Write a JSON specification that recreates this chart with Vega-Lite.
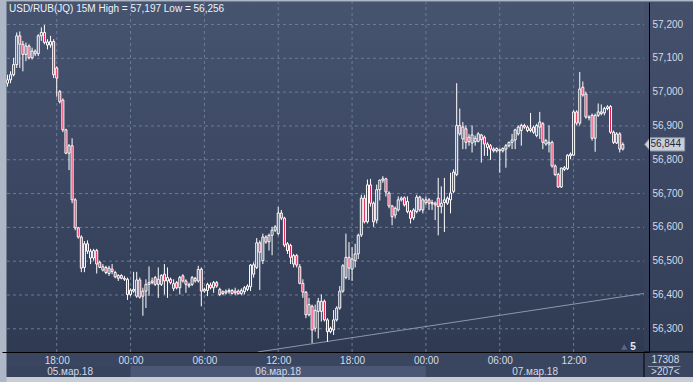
{
  "$schema": "https://vega.github.io/schema/vega-lite/v6.json",
  "width": 647,
  "height": 350,
  "autosize": {"type": "none"},
  "padding": {"left": 2, "top": 2, "right": 44, "bottom": 30},
  "background": "#3a4660",
  "config": {
    "font": "Liberation Sans",
    "view": {"stroke": null, "fill": {"gradient": "linear", "x1": 0, "y1": 0, "x2": 0, "y2": 1, "stops": [{"offset": 0, "color": "#47546f"}, {"offset": 0.5, "color": "#3c4863"}, {"offset": 1, "color": "#2f3a52"}]}}
  },
  "resolve": {"axis": {"x": "independent", "y": "independent"}},
  "datasets": {
    "candles": [
      {"t":"2018-03-05T14:00","o":57.025,"h":57.05,"l":57.015,"c":57.035},
      {"t":"2018-03-05T14:15","o":57.035,"h":57.06,"l":57.025,"c":57.05},
      {"t":"2018-03-05T14:30","o":57.05,"h":57.10,"l":57.045,"c":57.08},
      {"t":"2018-03-05T14:45","o":57.08,"h":57.175,"l":57.07,"c":57.165},
      {"t":"2018-03-05T15:00","o":57.165,"h":57.178,"l":57.07,"c":57.14},
      {"t":"2018-03-05T15:15","o":57.14,"h":57.15,"l":57.06,"c":57.11},
      {"t":"2018-03-05T15:30","o":57.11,"h":57.145,"l":57.09,"c":57.135},
      {"t":"2018-03-05T15:45","o":57.135,"h":57.14,"l":57.095,"c":57.10},
      {"t":"2018-03-05T16:00","o":57.10,"h":57.13,"l":57.095,"c":57.12},
      {"t":"2018-03-05T16:15","o":57.12,"h":57.125,"l":57.105,"c":57.112},
      {"t":"2018-03-05T16:30","o":57.112,"h":57.17,"l":57.105,"c":57.165},
      {"t":"2018-03-05T16:45","o":57.165,"h":57.19,"l":57.15,"c":57.175},
      {"t":"2018-03-05T17:00","o":57.175,"h":57.197,"l":57.14,"c":57.145},
      {"t":"2018-03-05T17:15","o":57.147,"h":57.155,"l":57.125,"c":57.138},
      {"t":"2018-03-05T17:30","o":57.138,"h":57.165,"l":57.13,"c":57.148},
      {"t":"2018-03-05T17:45","o":57.148,"h":57.155,"l":57.04,"c":57.05},
      {"t":"2018-03-05T18:00","o":57.07,"h":57.075,"l":56.985,"c":57.04},
      {"t":"2018-03-05T18:15","o":57.0,"h":57.005,"l":56.965,"c":56.97},
      {"t":"2018-03-05T18:30","o":56.975,"h":56.98,"l":56.88,"c":56.887},
      {"t":"2018-03-05T18:45","o":56.887,"h":56.89,"l":56.815,"c":56.818},
      {"t":"2018-03-05T19:00","o":56.818,"h":56.845,"l":56.768,"c":56.84},
      {"t":"2018-03-05T19:15","o":56.84,"h":56.862,"l":56.67,"c":56.68},
      {"t":"2018-03-05T19:30","o":56.68,"h":56.685,"l":56.59,"c":56.597},
      {"t":"2018-03-05T19:45","o":56.597,"h":56.6,"l":56.565,"c":56.57},
      {"t":"2018-03-05T20:00","o":56.57,"h":56.575,"l":56.466,"c":56.478},
      {"t":"2018-03-05T20:15","o":56.48,"h":56.558,"l":56.466,"c":56.55},
      {"t":"2018-03-05T20:30","o":56.55,"h":56.56,"l":56.52,"c":56.528},
      {"t":"2018-03-05T20:45","o":56.508,"h":56.535,"l":56.49,"c":56.528},
      {"t":"2018-03-05T21:00","o":56.508,"h":56.535,"l":56.5,"c":56.53},
      {"t":"2018-03-05T21:15","o":56.53,"h":56.535,"l":56.462,"c":56.49},
      {"t":"2018-03-05T21:30","o":56.495,"h":56.5,"l":56.478,"c":56.48},
      {"t":"2018-03-05T21:45","o":56.472,"h":56.49,"l":56.468,"c":56.482},
      {"t":"2018-03-05T22:00","o":56.48,"h":56.485,"l":56.46,"c":56.465},
      {"t":"2018-03-05T22:15","o":56.462,"h":56.485,"l":56.455,"c":56.478},
      {"t":"2018-03-05T22:30","o":56.475,"h":56.49,"l":56.46,"c":56.468},
      {"t":"2018-03-05T22:45","o":56.465,"h":56.47,"l":56.448,"c":56.452},
      {"t":"2018-03-05T23:00","o":56.448,"h":56.46,"l":56.44,"c":56.456},
      {"t":"2018-03-05T23:15","o":56.456,"h":56.46,"l":56.445,"c":56.448},
      {"t":"2018-03-05T23:30","o":56.448,"h":56.455,"l":56.44,"c":56.445},
      {"t":"2018-03-05T23:45","o":56.445,"h":56.45,"l":56.384,"c":56.40},
      {"t":"2018-03-06T00:00","o":56.40,"h":56.418,"l":56.395,"c":56.413},
      {"t":"2018-03-06T00:15","o":56.41,"h":56.467,"l":56.405,"c":56.415},
      {"t":"2018-03-06T00:30","o":56.395,"h":56.467,"l":56.39,"c":56.443},
      {"t":"2018-03-06T00:45","o":56.443,"h":56.45,"l":56.388,"c":56.392},
      {"t":"2018-03-06T01:00","o":56.395,"h":56.42,"l":56.337,"c":56.41},
      {"t":"2018-03-06T01:15","o":56.41,"h":56.445,"l":56.36,"c":56.43},
      {"t":"2018-03-06T01:30","o":56.43,"h":56.483,"l":56.396,"c":56.435},
      {"t":"2018-03-06T01:45","o":56.435,"h":56.45,"l":56.43,"c":56.44},
      {"t":"2018-03-06T02:00","o":56.45,"h":56.455,"l":56.425,"c":56.43},
      {"t":"2018-03-06T02:15","o":56.43,"h":56.48,"l":56.39,"c":56.445},
      {"t":"2018-03-06T02:30","o":56.43,"h":56.46,"l":56.425,"c":56.456},
      {"t":"2018-03-06T02:45","o":56.46,"h":56.49,"l":56.40,"c":56.44},
      {"t":"2018-03-06T03:00","o":56.44,"h":56.48,"l":56.39,"c":56.45},
      {"t":"2018-03-06T03:15","o":56.445,"h":56.45,"l":56.43,"c":56.435},
      {"t":"2018-03-06T03:30","o":56.418,"h":56.445,"l":56.41,"c":56.432},
      {"t":"2018-03-06T03:45","o":56.435,"h":56.44,"l":56.415,"c":56.42},
      {"t":"2018-03-06T04:00","o":56.42,"h":56.455,"l":56.40,"c":56.45},
      {"t":"2018-03-06T04:15","o":56.455,"h":56.46,"l":56.435,"c":56.44},
      {"t":"2018-03-06T04:30","o":56.44,"h":56.445,"l":56.405,"c":56.43},
      {"t":"2018-03-06T04:45","o":56.43,"h":56.435,"l":56.42,"c":56.425},
      {"t":"2018-03-06T05:00","o":56.43,"h":56.455,"l":56.425,"c":56.45},
      {"t":"2018-03-06T05:15","o":56.448,"h":56.452,"l":56.435,"c":56.44},
      {"t":"2018-03-06T05:30","o":56.44,"h":56.485,"l":56.435,"c":56.474},
      {"t":"2018-03-06T05:45","o":56.475,"h":56.48,"l":56.365,"c":56.41},
      {"t":"2018-03-06T06:00","o":56.41,"h":56.42,"l":56.405,"c":56.415},
      {"t":"2018-03-06T06:15","o":56.412,"h":56.435,"l":56.395,"c":56.43},
      {"t":"2018-03-06T06:30","o":56.428,"h":56.435,"l":56.415,"c":56.42},
      {"t":"2018-03-06T06:45","o":56.42,"h":56.44,"l":56.405,"c":56.435},
      {"t":"2018-03-06T07:00","o":56.435,"h":56.44,"l":56.42,"c":56.425},
      {"t":"2018-03-06T07:15","o":56.415,"h":56.42,"l":56.395,"c":56.40},
      {"t":"2018-03-06T07:30","o":56.403,"h":56.412,"l":56.398,"c":56.408},
      {"t":"2018-03-06T07:45","o":56.405,"h":56.415,"l":56.4,"c":56.41},
      {"t":"2018-03-06T08:00","o":56.408,"h":56.418,"l":56.402,"c":56.412},
      {"t":"2018-03-06T08:15","o":56.412,"h":56.416,"l":56.4,"c":56.403},
      {"t":"2018-03-06T08:30","o":56.405,"h":56.42,"l":56.398,"c":56.41},
      {"t":"2018-03-06T08:45","o":56.41,"h":56.415,"l":56.4,"c":56.402},
      {"t":"2018-03-06T09:00","o":56.403,"h":56.418,"l":56.398,"c":56.412},
      {"t":"2018-03-06T09:15","o":56.408,"h":56.425,"l":56.40,"c":56.42},
      {"t":"2018-03-06T09:30","o":56.415,"h":56.43,"l":56.41,"c":56.425},
      {"t":"2018-03-06T09:45","o":56.423,"h":56.49,"l":56.41,"c":56.487},
      {"t":"2018-03-06T10:00","o":56.46,"h":56.495,"l":56.45,"c":56.488},
      {"t":"2018-03-06T10:15","o":56.48,"h":56.567,"l":56.475,"c":56.553},
      {"t":"2018-03-06T10:30","o":56.553,"h":56.56,"l":56.413,"c":56.525},
      {"t":"2018-03-06T10:45","o":56.50,"h":56.58,"l":56.49,"c":56.57},
      {"t":"2018-03-06T11:00","o":56.57,"h":56.575,"l":56.55,"c":56.555},
      {"t":"2018-03-06T11:15","o":56.556,"h":56.58,"l":56.53,"c":56.575},
      {"t":"2018-03-06T11:30","o":56.575,"h":56.60,"l":56.516,"c":56.59},
      {"t":"2018-03-06T11:45","o":56.59,"h":56.605,"l":56.585,"c":56.60},
      {"t":"2018-03-06T12:00","o":56.58,"h":56.659,"l":56.575,"c":56.641},
      {"t":"2018-03-06T12:15","o":56.641,"h":56.65,"l":56.62,"c":56.626},
      {"t":"2018-03-06T12:30","o":56.626,"h":56.63,"l":56.54,"c":56.546},
      {"t":"2018-03-06T12:45","o":56.55,"h":56.555,"l":56.52,"c":56.53},
      {"t":"2018-03-06T13:00","o":56.545,"h":56.55,"l":56.49,"c":56.51},
      {"t":"2018-03-06T13:15","o":56.49,"h":56.52,"l":56.48,"c":56.515},
      {"t":"2018-03-06T13:30","o":56.515,"h":56.52,"l":56.48,"c":56.487},
      {"t":"2018-03-06T13:45","o":56.482,"h":56.49,"l":56.43,"c":56.433},
      {"t":"2018-03-06T14:00","o":56.433,"h":56.445,"l":56.39,"c":56.407},
      {"t":"2018-03-06T14:15","o":56.407,"h":56.41,"l":56.33,"c":56.34},
      {"t":"2018-03-06T14:30","o":56.34,"h":56.39,"l":56.335,"c":56.37},
      {"t":"2018-03-06T14:45","o":56.365,"h":56.37,"l":56.256,"c":56.295},
      {"t":"2018-03-06T15:00","o":56.30,"h":56.37,"l":56.29,"c":56.353},
      {"t":"2018-03-06T15:15","o":56.35,"h":56.39,"l":56.27,"c":56.38},
      {"t":"2018-03-06T15:30","o":56.35,"h":56.40,"l":56.32,"c":56.38},
      {"t":"2018-03-06T15:45","o":56.38,"h":56.385,"l":56.32,"c":56.325},
      {"t":"2018-03-06T16:00","o":56.325,"h":56.33,"l":56.26,"c":56.29},
      {"t":"2018-03-06T16:15","o":56.29,"h":56.305,"l":56.285,"c":56.30},
      {"t":"2018-03-06T16:30","o":56.295,"h":56.354,"l":56.28,"c":56.325},
      {"t":"2018-03-06T16:45","o":56.325,"h":56.365,"l":56.32,"c":56.36},
      {"t":"2018-03-06T17:00","o":56.36,"h":56.425,"l":56.355,"c":56.41},
      {"t":"2018-03-06T17:15","o":56.41,"h":56.49,"l":56.405,"c":56.485},
      {"t":"2018-03-06T17:30","o":56.45,"h":56.58,"l":56.445,"c":56.51},
      {"t":"2018-03-06T17:45","o":56.51,"h":56.555,"l":56.443,"c":56.478},
      {"t":"2018-03-06T18:00","o":56.475,"h":56.54,"l":56.44,"c":56.505},
      {"t":"2018-03-06T18:15","o":56.50,"h":56.55,"l":56.48,"c":56.52},
      {"t":"2018-03-06T18:30","o":56.52,"h":56.58,"l":56.505,"c":56.575},
      {"t":"2018-03-06T18:45","o":56.576,"h":56.695,"l":56.57,"c":56.685},
      {"t":"2018-03-06T19:00","o":56.685,"h":56.695,"l":56.61,"c":56.615},
      {"t":"2018-03-06T19:15","o":56.615,"h":56.74,"l":56.61,"c":56.724},
      {"t":"2018-03-06T19:30","o":56.724,"h":56.742,"l":56.66,"c":56.67},
      {"t":"2018-03-06T19:45","o":56.67,"h":56.675,"l":56.60,"c":56.615},
      {"t":"2018-03-06T20:00","o":56.62,"h":56.725,"l":56.61,"c":56.71},
      {"t":"2018-03-06T20:15","o":56.71,"h":56.74,"l":56.678,"c":56.738},
      {"t":"2018-03-06T20:30","o":56.738,"h":56.75,"l":56.73,"c":56.742},
      {"t":"2018-03-06T20:45","o":56.742,"h":56.745,"l":56.69,"c":56.703},
      {"t":"2018-03-06T21:00","o":56.70,"h":56.705,"l":56.655,"c":56.662},
      {"t":"2018-03-06T21:15","o":56.662,"h":56.665,"l":56.605,"c":56.63},
      {"t":"2018-03-06T21:30","o":56.635,"h":56.66,"l":56.625,"c":56.655},
      {"t":"2018-03-06T21:45","o":56.65,"h":56.69,"l":56.645,"c":56.68},
      {"t":"2018-03-06T22:00","o":56.68,"h":56.69,"l":56.675,"c":56.685},
      {"t":"2018-03-06T22:15","o":56.686,"h":56.69,"l":56.66,"c":56.665},
      {"t":"2018-03-06T22:30","o":56.675,"h":56.69,"l":56.64,"c":56.645},
      {"t":"2018-03-06T22:45","o":56.645,"h":56.65,"l":56.61,"c":56.625},
      {"t":"2018-03-06T23:00","o":56.627,"h":56.655,"l":56.62,"c":56.65},
      {"t":"2018-03-06T23:15","o":56.645,"h":56.695,"l":56.64,"c":56.688},
      {"t":"2018-03-06T23:30","o":56.688,"h":56.692,"l":56.645,"c":56.65},
      {"t":"2018-03-06T23:45","o":56.65,"h":56.685,"l":56.64,"c":56.68},
      {"t":"2018-03-07T00:00","o":56.672,"h":56.69,"l":56.665,"c":56.68},
      {"t":"2018-03-07T00:15","o":56.68,"h":56.685,"l":56.65,"c":56.67},
      {"t":"2018-03-07T00:30","o":56.668,"h":56.68,"l":56.65,"c":56.672},
      {"t":"2018-03-07T00:45","o":56.67,"h":56.675,"l":56.62,"c":56.665},
      {"t":"2018-03-07T01:00","o":56.685,"h":56.745,"l":56.575,"c":56.66},
      {"t":"2018-03-07T01:15","o":56.66,"h":56.72,"l":56.64,"c":56.67},
      {"t":"2018-03-07T01:30","o":56.672,"h":56.745,"l":56.585,"c":56.68},
      {"t":"2018-03-07T01:45","o":56.685,"h":56.69,"l":56.665,"c":56.67},
      {"t":"2018-03-07T02:00","o":56.68,"h":56.76,"l":56.64,"c":56.70},
      {"t":"2018-03-07T02:15","o":56.705,"h":56.77,"l":56.70,"c":56.762},
      {"t":"2018-03-07T02:30","o":56.755,"h":57.025,"l":56.75,"c":56.90},
      {"t":"2018-03-07T02:45","o":56.90,"h":56.95,"l":56.87,"c":56.875},
      {"t":"2018-03-07T03:00","o":56.86,"h":56.91,"l":56.83,"c":56.895},
      {"t":"2018-03-07T03:15","o":56.89,"h":56.90,"l":56.83,"c":56.85},
      {"t":"2018-03-07T03:30","o":56.865,"h":56.875,"l":56.84,"c":56.852},
      {"t":"2018-03-07T03:45","o":56.848,"h":56.90,"l":56.82,"c":56.872},
      {"t":"2018-03-07T04:00","o":56.852,"h":56.87,"l":56.84,"c":56.862},
      {"t":"2018-03-07T04:15","o":56.853,"h":56.88,"l":56.85,"c":56.875},
      {"t":"2018-03-07T04:30","o":56.872,"h":56.875,"l":56.79,"c":56.858},
      {"t":"2018-03-07T04:45","o":56.865,"h":56.87,"l":56.81,"c":56.845},
      {"t":"2018-03-07T05:00","o":56.835,"h":56.85,"l":56.81,"c":56.845},
      {"t":"2018-03-07T05:15","o":56.84,"h":56.845,"l":56.798,"c":56.83},
      {"t":"2018-03-07T05:30","o":56.83,"h":56.835,"l":56.82,"c":56.825},
      {"t":"2018-03-07T05:45","o":56.825,"h":56.835,"l":56.82,"c":56.832},
      {"t":"2018-03-07T06:00","o":56.828,"h":56.832,"l":56.76,"c":56.825},
      {"t":"2018-03-07T06:15","o":56.825,"h":56.835,"l":56.82,"c":56.832},
      {"t":"2018-03-07T06:30","o":56.83,"h":56.845,"l":56.775,"c":56.84},
      {"t":"2018-03-07T06:45","o":56.84,"h":56.852,"l":56.835,"c":56.85},
      {"t":"2018-03-07T07:00","o":56.85,"h":56.875,"l":56.83,"c":56.857},
      {"t":"2018-03-07T07:15","o":56.857,"h":56.89,"l":56.83,"c":56.887},
      {"t":"2018-03-07T07:30","o":56.875,"h":56.9,"l":56.87,"c":56.895},
      {"t":"2018-03-07T07:45","o":56.885,"h":56.905,"l":56.84,"c":56.9},
      {"t":"2018-03-07T08:00","o":56.9,"h":56.905,"l":56.89,"c":56.895},
      {"t":"2018-03-07T08:15","o":56.895,"h":56.9,"l":56.88,"c":56.885},
      {"t":"2018-03-07T08:30","o":56.885,"h":56.937,"l":56.88,"c":56.89},
      {"t":"2018-03-07T08:45","o":56.895,"h":56.9,"l":56.875,"c":56.88},
      {"t":"2018-03-07T09:00","o":56.87,"h":56.905,"l":56.865,"c":56.9},
      {"t":"2018-03-07T09:15","o":56.895,"h":56.94,"l":56.86,"c":56.91},
      {"t":"2018-03-07T09:30","o":56.905,"h":56.91,"l":56.83,"c":56.85},
      {"t":"2018-03-07T09:45","o":56.845,"h":56.86,"l":56.84,"c":56.855},
      {"t":"2018-03-07T10:00","o":56.845,"h":56.9,"l":56.82,"c":56.85},
      {"t":"2018-03-07T10:15","o":56.85,"h":56.855,"l":56.775,"c":56.78},
      {"t":"2018-03-07T10:30","o":56.78,"h":56.785,"l":56.75,"c":56.755},
      {"t":"2018-03-07T10:45","o":56.755,"h":56.76,"l":56.715,"c":56.718},
      {"t":"2018-03-07T11:00","o":56.718,"h":56.775,"l":56.715,"c":56.774},
      {"t":"2018-03-07T11:15","o":56.77,"h":56.78,"l":56.765,"c":56.775},
      {"t":"2018-03-07T11:30","o":56.772,"h":56.815,"l":56.768,"c":56.812},
      {"t":"2018-03-07T11:45","o":56.81,"h":56.82,"l":56.80,"c":56.815},
      {"t":"2018-03-07T12:00","o":56.812,"h":56.945,"l":56.81,"c":56.94},
      {"t":"2018-03-07T12:15","o":56.94,"h":56.945,"l":56.90,"c":56.907},
      {"t":"2018-03-07T12:30","o":56.907,"h":57.058,"l":56.90,"c":57.008},
      {"t":"2018-03-07T12:45","o":57.013,"h":57.03,"l":56.985,"c":56.99},
      {"t":"2018-03-07T13:00","o":56.993,"h":57.0,"l":56.92,"c":56.925},
      {"t":"2018-03-07T13:15","o":56.925,"h":56.93,"l":56.915,"c":56.923},
      {"t":"2018-03-07T13:30","o":56.93,"h":56.935,"l":56.855,"c":56.862},
      {"t":"2018-03-07T13:45","o":56.862,"h":56.935,"l":56.822,"c":56.93},
      {"t":"2018-03-07T14:00","o":56.93,"h":56.965,"l":56.925,"c":56.94},
      {"t":"2018-03-07T14:15","o":56.94,"h":56.962,"l":56.93,"c":56.935},
      {"t":"2018-03-07T14:30","o":56.937,"h":56.955,"l":56.93,"c":56.95},
      {"t":"2018-03-07T14:45","o":56.95,"h":56.96,"l":56.945,"c":56.955},
      {"t":"2018-03-07T15:00","o":56.956,"h":56.96,"l":56.875,"c":56.88},
      {"t":"2018-03-07T15:15","o":56.88,"h":56.885,"l":56.845,"c":56.85},
      {"t":"2018-03-07T15:30","o":56.848,"h":56.88,"l":56.845,"c":56.875},
      {"t":"2018-03-07T15:45","o":56.875,"h":56.88,"l":56.82,"c":56.83},
      {"t":"2018-03-07T16:00","o":56.83,"h":56.85,"l":56.826,"c":56.844}
    ],
    "trend": [
      {"t":"2018-03-06T10:20","p":56.2299},
      {"t":"2018-03-07T17:43","p":56.403}
    ],
    "ygrid": [{"gp":56.3},{"gp":56.4},{"gp":56.5},{"gp":56.6},{"gp":56.7},{"gp":56.8},{"gp":56.9},{"gp":57.0},{"gp":57.1},{"gp":57.2}],
    "xgrid": [{"gt":"2018-03-05T18:00"},{"gt":"2018-03-06T00:00"},{"gt":"2018-03-06T06:00"},{"gt":"2018-03-06T12:00"},{"gt":"2018-03-06T18:00"},{"gt":"2018-03-07T00:00"},{"gt":"2018-03-07T06:00"},{"gt":"2018-03-07T12:00"}],
    "days": [
      {"d":"05.мар.18","s":"2018-03-05T00:00","e":"2018-03-06T00:00","m":"2018-03-05T19:05"},
      {"d":"06.мар.18","s":"2018-03-06T00:00","e":"2018-03-07T00:00","m":"2018-03-06T12:00"},
      {"d":"07.мар.18","s":"2018-03-07T00:00","e":"2018-03-07T17:43","m":"2018-03-07T08:52"}
    ]
  },
  "layer": [
    {
      "data": {"name": "candles"},
      "mark": {"type": "rule", "color": "#ffffff", "strokeWidth": 1},
      "encoding": {
        "x": {"field": "t", "type": "temporal",
          "scale": {"domain": [{"year":2018,"month":3,"date":5,"hours":13,"minutes":57,"seconds":36},{"year":2018,"month":3,"date":7,"hours":17,"minutes":43,"seconds":12}], "nice": false},
          "axis": {"orient": "bottom", "title": null, "format": "%H:%M", "zindex": 1,
            "values": [
              {"year":2018,"month":3,"date":5,"hours":18},
              {"year":2018,"month":3,"date":6,"hours":0},
              {"year":2018,"month":3,"date":6,"hours":6},
              {"year":2018,"month":3,"date":6,"hours":12},
              {"year":2018,"month":3,"date":6,"hours":18},
              {"year":2018,"month":3,"date":7,"hours":0},
              {"year":2018,"month":3,"date":7,"hours":6},
              {"year":2018,"month":3,"date":7,"hours":12}
            ],
            "grid": false, "ticks": false, "domain": true, "domainColor": "#000000", "domainWidth": 1,
            "labelColor": "#d4dbe8", "labelFontSize": 10, "labelPadding": 3,
            "labelFlush": false, "labelOverlap": false}},
        "y": {"field": "l", "type": "quantitative",
          "scale": {"domain": [56.2299, 57.2651], "nice": false, "zero": false},
          "axis": {"orient": "right", "title": null, "zindex": 1,
            "values": [56.3, 56.4, 56.5, 56.6, 56.7, 56.8, 56.9, 57.0, 57.1, 57.2],
            "labelExpr": "replace(format(datum.value, '.3f'), '.', ',')",
            "grid": false, "ticks": false, "domain": true, "domainColor": "#000000", "domainWidth": 1,
            "labelColor": "#d4dbe8", "labelFontSize": 10, "labelPadding": 3,
            "labelFlush": false, "labelOverlap": false}},
        "y2": {"field": "h"},
        "opacity": {"value": 0}
      }
    },
    {
      "data": {"values": [{}]},
      "mark": {"type": "rect", "color": {"gradient": "linear", "x1": 0, "y1": 0, "x2": 0, "y2": 1, "stops": [{"offset": 0, "color": "#44506c"}, {"offset": 0.5, "color": "#3c4863"}, {"offset": 1, "color": "#323d56"}]}},
      "encoding": {
        "x": {"datum": {"year":2018,"month":3,"date":7,"hours":17,"minutes":43,"seconds":12}, "type": "temporal", "axis": null},
        "x2": {"datum": {"year":2018,"month":3,"date":8,"hours":0}},
        "y": {"datum": 56.2299, "type": "quantitative", "axis": null},
        "y2": {"datum": 57.2651}
      }
    },
    {
      "data": {"name": "ygrid"},
      "mark": {"type": "rule", "stroke": "#6d7a98", "strokeWidth": 1, "strokeDash": [3, 3], "yOffset": 0.5},
      "encoding": {
        "x": {"datum": {"year":2018,"month":3,"date":5,"hours":13,"minutes":57,"seconds":36}, "type": "temporal", "axis": null},
        "x2": {"datum": {"year":2018,"month":3,"date":7,"hours":17,"minutes":43,"seconds":12}},
        "y": {"field": "gp", "type": "quantitative", "axis": null}
      }
    },
    {
      "data": {"name": "xgrid"},
      "mark": {"type": "rule", "stroke": "#6d7a98", "strokeWidth": 1, "strokeDash": [3, 3]},
      "encoding": {
        "x": {"field": "gt", "type": "temporal", "axis": null},
        "y": {"datum": 56.2299, "type": "quantitative", "axis": null},
        "y2": {"datum": 57.2651}
      }
    },
    {
      "data": {"name": "trend"},
      "mark": {"type": "line", "color": "#8c97ad", "strokeWidth": 1, "clip": true},
      "encoding": {
        "x": {"field": "t", "type": "temporal", "axis": null},
        "y": {"field": "p", "type": "quantitative", "axis": null}
      }
    },
    {
      "data": {"name": "candles"},
      "mark": {"type": "rule", "color": "#ffffff", "strokeWidth": 1},
      "encoding": {
        "x": {"field": "t", "type": "temporal", "axis": null},
        "y": {"field": "l", "type": "quantitative", "axis": null},
        "y2": {"field": "h"}
      }
    },
    {
      "data": {"name": "candles"},
      "mark": {"type": "bar", "size": 2, "stroke": "#ffffff", "strokeWidth": 1},
      "encoding": {
        "x": {"field": "t", "type": "temporal", "axis": null},
        "y": {"field": "o", "type": "quantitative", "axis": null},
        "y2": {"field": "c"},
        "fill": {"condition": {"test": "datum.c < datum.o", "value": "#e3194b"}, "value": "#3c4863"}
      }
    },
    {
      "data": {"name": "days"},
      "mark": {"type": "rect"},
      "encoding": {
        "x": {"field": "s", "type": "temporal", "axis": null},
        "x2": {"field": "e"},
        "y": {"datum": 56.1885, "type": "quantitative", "axis": null},
        "y2": {"datum": 56.156},
        "fill": {"field": "d", "type": "nominal", "legend": null,
          "scale": {"domain": ["05.мар.18", "06.мар.18", "07.мар.18"], "range": ["#38445e", "#4b5774", "#3a465f"]}}
      }
    },
    {
      "data": {"name": "days"},
      "mark": {"type": "text", "color": "#d4dbe8", "fontSize": 10, "align": "center", "baseline": "middle"},
      "encoding": {
        "x": {"field": "m", "type": "temporal", "axis": null},
        "y": {"datum": 56.1708, "type": "quantitative", "axis": null},
        "text": {"field": "d"}
      }
    },
    {
      "data": {"values": [{"label": "USD/RUB(JQ) 15M High = 57,197 Low = 56,256"}]},
      "mark": {"type": "text", "color": "#eef1f6", "fontSize": 10, "align": "left", "baseline": "top", "dx": 2, "dy": 2},
      "encoding": {
        "x": {"datum": {"year":2018,"month":3,"date":5,"hours":13,"minutes":57,"seconds":36}, "type": "temporal", "axis": null},
        "y": {"datum": 57.2651, "type": "quantitative", "axis": null},
        "text": {"field": "label"}
      }
    },
    {
      "data": {"values": [{"p": 56.844, "label": "56,844"}]},
      "mark": {"type": "point", "shape": "M -1 0 L -0.72 -0.33 L 1 -0.33 L 1 0.33 L -0.72 0.33 Z", "size": 1600, "filled": true, "fill": "#c9ced7", "stroke": "#8e97a9", "strokeWidth": 1, "opacity": 1},
      "encoding": {
        "x": {"datum": {"year":2018,"month":3,"date":7,"hours":19,"minutes":24}, "type": "temporal", "axis": null},
        "y": {"field": "p", "type": "quantitative", "axis": null}
      }
    },
    {
      "data": {"values": [{"p": 56.844, "label": "56,844"}]},
      "mark": {"type": "text", "color": "#1e2840", "fontSize": 10, "align": "center", "baseline": "middle", "dx": 1},
      "encoding": {
        "x": {"datum": {"year":2018,"month":3,"date":7,"hours":19,"minutes":24}, "type": "temporal", "axis": null},
        "y": {"field": "p", "type": "quantitative", "axis": null},
        "text": {"field": "label"}
      }
    },
    {
      "data": {"values": [{"a": "17308"}]},
      "mark": {"type": "text", "color": "#d4dbe8", "fontSize": 10, "align": "center", "baseline": "middle"},
      "encoding": {
        "x": {"datum": {"year":2018,"month":3,"date":7,"hours":19,"minutes":27}, "type": "temporal", "axis": null},
        "y": {"datum": 56.2077, "type": "quantitative", "axis": null},
        "text": {"field": "a"}
      }
    },
    {
      "data": {"values": [{"b": ">207<"}]},
      "mark": {"type": "text", "color": "#d4dbe8", "fontSize": 10, "align": "center", "baseline": "middle"},
      "encoding": {
        "x": {"datum": {"year":2018,"month":3,"date":7,"hours":19,"minutes":27}, "type": "temporal", "axis": null},
        "y": {"datum": 56.1708, "type": "quantitative", "axis": null},
        "text": {"field": "b"}
      }
    },
    {
      "data": {"values": [{}]},
      "mark": {"type": "rule", "color": "#8d96a8", "strokeWidth": 1},
      "encoding": {
        "x": {"datum": {"year":2018,"month":3,"date":7,"hours":18,"minutes":2}, "type": "temporal", "axis": null},
        "x2": {"datum": {"year":2018,"month":3,"date":7,"hours":20,"minutes":41}},
        "y": {"datum": 56.187, "type": "quantitative", "axis": null}
      }
    },
    {
      "data": {"values": [{"n": "5"}]},
      "mark": {"type": "text", "color": "#e6eaf2", "fontSize": 10, "fontWeight": "bold", "align": "center", "baseline": "middle"},
      "encoding": {
        "x": {"datum": {"year":2018,"month":3,"date":7,"hours":16,"minutes":50}, "type": "temporal", "axis": null},
        "y": {"datum": 56.2447, "type": "quantitative", "axis": null},
        "text": {"field": "n"}
      }
    },
    {
      "data": {"values": [{}]},
      "mark": {"type": "point", "shape": "triangle-up", "size": 40, "filled": true, "color": "#5c6781", "opacity": 1},
      "encoding": {
        "x": {"datum": {"year":2018,"month":3,"date":7,"hours":16,"minutes":7}, "type": "temporal", "axis": null},
        "y": {"datum": 56.2447, "type": "quantitative", "axis": null}
      }
    },
    {
      "data": {"values": [{}]},
      "mark": {"type": "rule", "color": "#000000", "strokeWidth": 1},
      "encoding": {
        "x": {"datum": {"year":2018,"month":3,"date":7,"hours":17,"minutes":43,"seconds":12}, "type": "temporal", "axis": null},
        "y": {"datum": 56.2299, "type": "quantitative", "axis": null},
        "y2": {"datum": 56.156}
      }
    },
    {
      "data": {"values": [{}]},
      "mark": {"type": "rule", "color": "#000000", "strokeWidth": 1},
      "encoding": {
        "x": {"datum": {"year":2018,"month":3,"date":7,"hours":17,"minutes":43,"seconds":12}, "type": "temporal", "axis": null},
        "x2": {"datum": {"year":2018,"month":3,"date":8,"hours":0}},
        "y": {"datum": 56.2299, "type": "quantitative", "axis": null}
      }
    },
    {
      "data": {"values": [{}]},
      "mark": {"type": "rect", "color": "#c8cdd6"},
      "encoding": {
        "x": {"datum": {"year":2018,"month":3,"date":5,"hours":0}, "type": "temporal", "axis": null},
        "x2": {"datum": {"year":2018,"month":3,"date":8,"hours":0}},
        "y": {"datum": 56.156, "type": "quantitative", "axis": null},
        "y2": {"datum": 56.12}
      }
    },
    {
      "data": {"values": [{}]},
      "mark": {"type": "rect", "color": "#aeb7c6"},
      "encoding": {
        "x": {"datum": {"year":2018,"month":3,"date":5,"hours":0}, "type": "temporal", "axis": null},
        "x2": {"datum": {"year":2018,"month":3,"date":8,"hours":0}},
        "y": {"datum": 57.2667, "type": "quantitative", "axis": null},
        "y2": {"datum": 57.30}
      }
    },
    {
      "data": {"values": [{}]},
      "mark": {"type": "rect", "color": "#aeb7c6"},
      "encoding": {
        "x": {"datum": {"year":2018,"month":3,"date":5,"hours":0}, "type": "temporal", "axis": null},
        "x2": {"datum": {"year":2018,"month":3,"date":5,"hours":13,"minutes":55,"seconds":12}},
        "y": {"datum": 56.12, "type": "quantitative", "axis": null},
        "y2": {"datum": 57.30}
      }
    }
  ]
}
